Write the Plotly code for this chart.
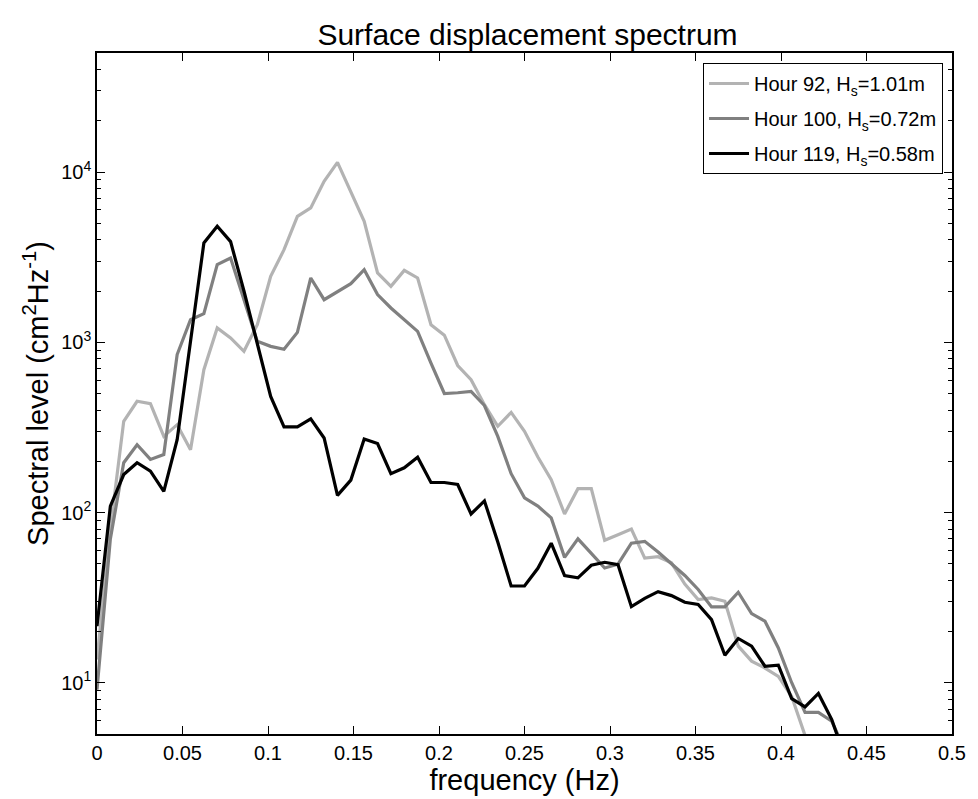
import numpy as np
import plotly.graph_objects as go

df = 1.0 / 128.0

hour92 = [13.7, 80, 343, 450, 436, 280, 328, 234, 690, 1213, 1060, 885, 1268, 2438, 3497,
          5488, 6147, 8810, 11380, 7690, 5130, 2553, 2130, 2644, 2385, 1268, 1100, 730, 603,
          430, 321, 387, 300, 212, 156, 98, 138, 138, 68.7, 74, 80, 54, 55, 50.6, 38, 30.8,
          31.5, 30.1, 16.4, 13.4, 12.2, 10.9, 8.3, 4.9, 3.0]
hour100 = [9.1, 70, 196, 250, 205, 219, 847, 1357, 1472, 2856, 3126, 1800, 1012, 946, 910,
           1143, 2385, 1778, 1990, 2208, 2669, 1905, 1590, 1357, 1159, 755, 500, 505, 515,
           425, 280, 169, 122, 109, 93, 54.5, 70, 57.5, 47.2, 49.7, 66, 67.7, 58.6, 50, 42.7,
           35.3, 27.9, 27.9, 34, 25.5, 23, 16, 10, 6.7, 6.7, 5.94, 4.0]
hour119 = [21.5, 109, 167, 196, 175, 133, 268, 1030, 3830, 4800, 3900, 2000, 990, 481, 318,
           318, 355, 274, 126, 155, 270, 254, 169, 183, 211, 150, 150, 146, 98, 117, 67, 37,
           37, 47, 66, 42.6, 41.3, 49, 51, 49.4, 28, 31.3, 34.3, 32.5, 29.7, 28.8, 23.5, 14.5,
           18.2, 16.4, 12.5, 12.7, 8.07, 7.21, 8.65, 6.08, 3.6]

names = ["Hour 92, H<sub>s</sub>=1.01m", "Hour 100, H<sub>s</sub>=0.72m", "Hour 119, H<sub>s</sub>=0.58m"]
colors = ["#b3b3b3", "#808080", "#000000"]
series = [hour92, hour100, hour119]

xticks = [0, 0.05, 0.1, 0.15, 0.2, 0.25, 0.3, 0.35, 0.4, 0.45, 0.5]
xticktext = ["0", "0.05", "0.1", "0.15", "0.2", "0.25", "0.3", "0.35", "0.4", "0.45", "0.5"]
yticks = [10, 100, 1000, 10000]
yticktext = ["10<sup>1</sup>", "10<sup>2</sup>", "10<sup>3</sup>", "10<sup>4</sup>"]
yminor = [k * 10 ** d for d in range(0, 5) for k in range(2, 10) if 5 <= k * 10 ** d <= 50000]

fig = go.Figure()
for n, (vals, name, col) in enumerate(zip(series, names, colors)):
    f = [i * df for i in range(len(vals))]
    fig.add_trace(go.Scatter(x=f, y=vals, mode="lines", name=name, legendgroup=f"g{n}",
                             line=dict(color=col, width=3.2)))

font = "Liberation Sans, Arial, Helvetica, sans-serif"
fig.update_layout(
    width=978, height=799,
    margin=dict(l=97, r=20, t=53, b=65),
    plot_bgcolor="white", paper_bgcolor="white",
    font=dict(family=font, size=20, color="black"),
    title=dict(text="Surface displacement spectrum", x=(97 + 958) / 2 / 978, xanchor="center",
               y=1 - 34 / 799, yanchor="middle", font=dict(size=30)),
    showlegend=True,
    legend=dict(x=0.9895, y=0.9853, xanchor="right", yanchor="top",
                bordercolor="black", borderwidth=1, bgcolor="white",
                font=dict(size=20), tracegroupgap=6, itemwidth=40),
)
fig.update_xaxes(range=[0, 0.5], tickmode="array", tickvals=xticks, ticktext=xticktext,
                 ticks="inside", ticklen=8, tickcolor="black", tickwidth=1,
                 showline=True, linecolor="black", linewidth=1.5, mirror="allticks",
                 showgrid=False, zeroline=False,
                 title=dict(text="frequency (Hz)", font=dict(size=29), standoff=2))
fig.update_yaxes(type="log", range=[np.log10(5), np.log10(50000)], tickmode="array",
                 tickvals=yticks, ticktext=yticktext,
                 ticks="inside", ticklen=8, tickcolor="black", tickwidth=1,
                 minor=dict(tickmode="array", tickvals=yminor, ticks="inside", ticklen=4,
                            tickcolor="black", tickwidth=1, showgrid=False),
                 showline=True, linecolor="black", linewidth=1.5, mirror="allticks",
                 showgrid=False, zeroline=False,
                 title=dict(text="Spectral level (cm<sup>2</sup>Hz<sup>-1</sup>)",
                            font=dict(size=29), standoff=4))

fig.write_html("out.html")
